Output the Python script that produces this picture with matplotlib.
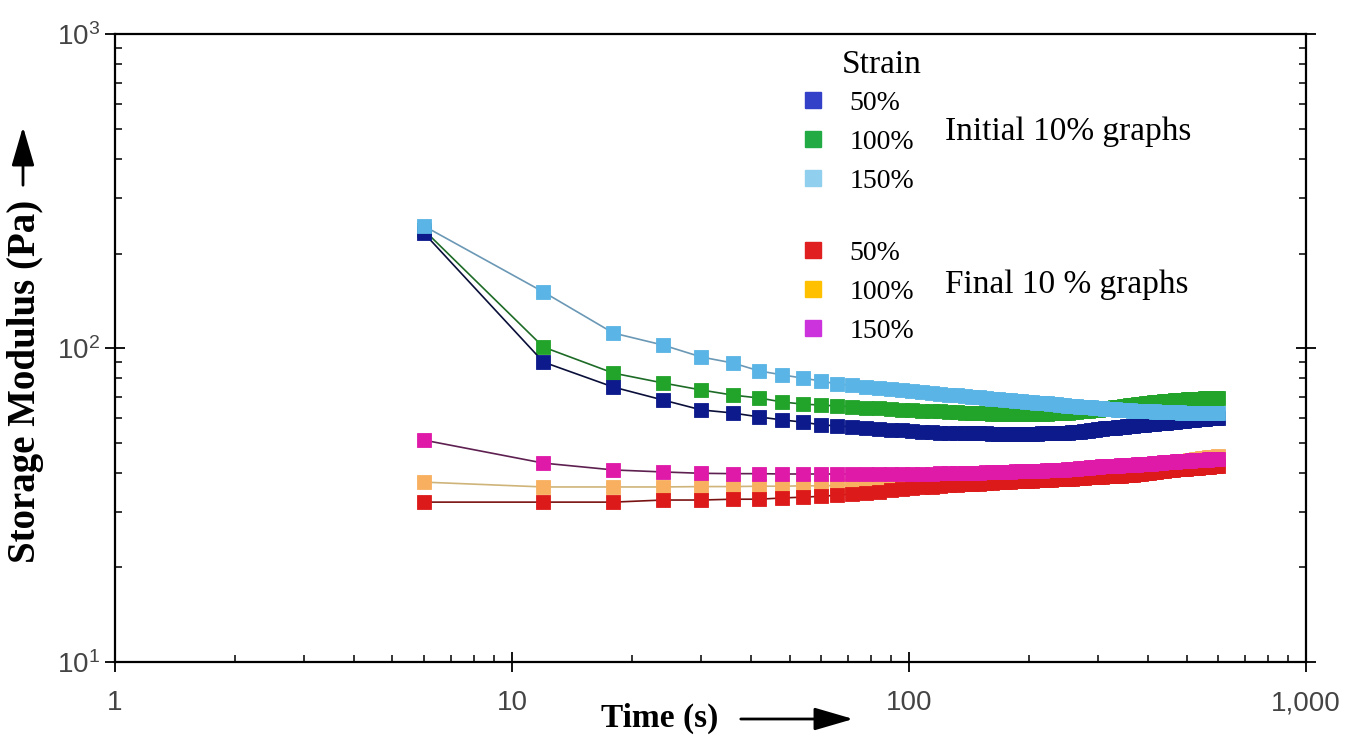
import matplotlib
matplotlib.use('Agg')
import matplotlib.pyplot as plt
from matplotlib.lines import Line2D
from matplotlib.patches import FancyArrowPatch
from matplotlib.ticker import FixedLocator, NullFormatter

plt.rcParams['font.family'] = ['Liberation Sans', 'DejaVu Sans']
plt.rcParams['mathtext.fontset'] = 'custom'
plt.rcParams['mathtext.rm'] = 'Liberation Sans'

# time (s) - the rheometer samples every 6 s
time_s = [6, 12, 18, 24, 30, 36, 42, 48, 54, 60,
          66, 72, 78, 84, 90, 96, 102, 108, 114, 120,
          126, 132, 138, 144, 150, 156, 162, 168, 174, 180,
          186, 192, 198, 204, 210, 216, 222, 228, 234, 240,
          246, 252, 258, 264, 270, 276, 282, 288, 294, 300,
          306, 312, 318, 324, 330, 336, 342, 348, 354, 360,
          366, 372, 378, 384, 390, 396, 402, 408, 414, 420,
          426, 432, 438, 444, 450, 456, 462, 468, 474, 480,
          486, 492, 498, 504, 510, 516, 522, 528, 534, 540,
          546, 552, 558, 564, 570, 576, 582, 588, 594, 600]

# storage modulus (Pa), initial 10 % of the test
init_50 = [232.4, 90.2, 75.1, 68.3, 63.5, 62.1, 60.3, 59.0, 58.1, 56.9,
           56.5, 56.1, 55.7, 55.3, 55.0, 54.7, 54.4, 54.2, 54.0, 53.8,
           53.7, 53.6, 53.6, 53.5, 53.5, 53.5, 53.4, 53.4, 53.4, 53.4,
           53.4, 53.4, 53.4, 53.4, 53.4, 53.5, 53.5, 53.5, 53.6, 53.6,
           53.7, 53.8, 53.9, 54.0, 54.2, 54.4, 54.6, 54.8, 55.0, 55.2,
           55.3, 55.5, 55.6, 55.7, 55.8, 56.0, 56.1, 56.2, 56.4, 56.5,
           56.6, 56.7, 56.8, 56.9, 57.0, 57.1, 57.2, 57.3, 57.4, 57.5,
           57.6, 57.7, 57.8, 57.9, 58.0, 58.1, 58.2, 58.3, 58.4, 58.5,
           58.6, 58.7, 58.8, 58.9, 59.0, 59.1, 59.2, 59.3, 59.4, 59.5,
           59.5, 59.6, 59.6, 59.7, 59.7, 59.8, 59.8, 59.9, 59.9, 60.0]
init_100 = [237.6, 100.7, 83.2, 77.4, 73.5, 70.8, 69.3, 67.3, 66.3, 65.8,
            65.4, 65.0, 64.6, 64.3, 64.0, 63.7, 63.4, 63.2, 63.0, 62.8,
            62.6, 62.4, 62.3, 62.1, 62.0, 61.9, 61.8, 61.7, 61.7, 61.6,
            61.6, 61.6, 61.6, 61.6, 61.7, 61.7, 61.8, 61.9, 62.0, 62.1,
            62.2, 62.3, 62.5, 62.6, 62.8, 62.9, 63.1, 63.3, 63.5, 63.7,
            63.9, 64.1, 64.3, 64.5, 64.7, 64.9, 65.1, 65.3, 65.5, 65.7,
            65.9, 66.0, 66.2, 66.4, 66.5, 66.7, 66.8, 67.0, 67.1, 67.3,
            67.4, 67.5, 67.6, 67.7, 67.8, 67.9, 68.0, 68.1, 68.2, 68.3,
            68.4, 68.5, 68.5, 68.6, 68.7, 68.7, 68.8, 68.8, 68.9, 68.9,
            69.0, 69.0, 69.1, 69.1, 69.2, 69.2, 69.3, 69.3, 69.4, 69.4]
init_150 = [244.7, 150.8, 111.6, 102.2, 93.6, 89.6, 84.5, 82.1, 80.2, 78.5,
            76.8, 76.0, 75.1, 74.6, 74.0, 73.5, 72.9, 72.4, 71.9, 71.4,
            71.0, 70.6, 70.2, 69.9, 69.6, 69.3, 69.0, 68.7, 68.4, 68.2,
            67.9, 67.7, 67.4, 67.2, 67.0, 66.8, 66.6, 66.4, 66.2, 66.0,
            65.8, 65.6, 65.4, 65.3, 65.1, 65.0, 64.8, 64.7, 64.5, 64.4,
            64.3, 64.1, 64.0, 63.9, 63.8, 63.7, 63.6, 63.5, 63.4, 63.3,
            63.2, 63.2, 63.1, 63.0, 63.0, 62.9, 62.9, 62.8, 62.8, 62.7,
            62.7, 62.6, 62.6, 62.6, 62.5, 62.5, 62.5, 62.4, 62.4, 62.4,
            62.3, 62.3, 62.3, 62.3, 62.2, 62.2, 62.2, 62.2, 62.2, 62.1,
            62.1, 62.1, 62.1, 62.1, 62.1, 62.1, 62.1, 62.1, 62.1, 62.1]

# storage modulus (Pa), final 10 % of the test
final_50 = [32.3, 32.3, 32.3, 32.8, 32.8, 33.0, 33.0, 33.3, 33.5, 33.7,
            34.0, 34.3, 34.6, 34.9, 35.2, 35.5, 35.8, 36.0, 36.2, 36.4,
            36.6, 36.7, 36.8, 36.9, 37.0, 37.1, 37.2, 37.3, 37.4, 37.5,
            37.6, 37.7, 37.8, 37.8, 37.9, 38.0, 38.0, 38.1, 38.2, 38.2,
            38.3, 38.4, 38.4, 38.5, 38.6, 38.6, 38.7, 38.8, 38.8, 38.9,
            38.9, 39.0, 39.0, 39.1, 39.1, 39.2, 39.2, 39.3, 39.3, 39.4,
            39.5, 39.6, 39.7, 39.8, 39.9, 40.0, 40.1, 40.2, 40.3, 40.4,
            40.5, 40.6, 40.7, 40.8, 40.9, 41.0, 41.0, 41.1, 41.1, 41.2,
            41.2, 41.3, 41.3, 41.4, 41.4, 41.5, 41.5, 41.6, 41.6, 41.7,
            41.7, 41.8, 41.8, 41.9, 41.9, 42.0, 42.0, 42.1, 42.1, 42.2]
final_100 = [37.4, 36.1, 36.1, 36.1, 36.2, 36.2, 36.3, 36.3, 36.4, 36.4,
             36.5, 36.6, 36.7, 36.8, 36.9, 37.0, 37.1, 37.2, 37.3, 37.4,
             37.5, 37.6, 37.7, 37.8, 37.9, 38.0, 38.1, 38.2, 38.3, 38.4,
             38.5, 38.6, 38.7, 38.8, 38.9, 39.0, 39.1, 39.2, 39.3, 39.4,
             39.5, 39.6, 39.7, 39.8, 39.9, 40.0, 40.1, 40.2, 40.3, 40.4,
             40.5, 40.6, 40.7, 40.8, 40.9, 41.0, 41.1, 41.2, 41.3, 41.4,
             41.5, 41.6, 41.7, 41.8, 41.9, 42.0, 42.1, 42.2, 42.3, 42.4,
             42.5, 42.6, 42.7, 42.8, 42.9, 43.0, 43.1, 43.2, 43.3, 43.4,
             43.5, 43.6, 43.7, 43.8, 43.9, 44.0, 44.1, 44.2, 44.3, 44.4,
             44.5, 44.6, 44.7, 44.8, 44.9, 45.0, 45.0, 45.1, 45.1, 45.2]
final_150 = [50.9, 43.0, 40.9, 40.3, 39.9, 39.8, 39.8, 39.7, 39.7, 39.7,
             39.7, 39.7, 39.7, 39.7, 39.7, 39.7, 39.8, 39.8, 39.8, 39.9,
             39.9, 40.0, 40.0, 40.1, 40.1, 40.2, 40.2, 40.3, 40.3, 40.4,
             40.5, 40.5, 40.6, 40.6, 40.7, 40.7, 40.8, 40.8, 40.9, 40.9,
             41.0, 41.1, 41.2, 41.3, 41.4, 41.5, 41.6, 41.7, 41.8, 41.9,
             42.0, 42.0, 42.1, 42.1, 42.2, 42.2, 42.3, 42.3, 42.4, 42.4,
             42.5, 42.5, 42.6, 42.6, 42.7, 42.7, 42.8, 42.8, 42.9, 42.9,
             43.0, 43.1, 43.2, 43.2, 43.3, 43.4, 43.4, 43.5, 43.6, 43.6,
             43.7, 43.7, 43.8, 43.8, 43.8, 43.9, 43.9, 43.9, 44.0, 44.0,
             44.0, 44.1, 44.1, 44.1, 44.2, 44.2, 44.2, 44.3, 44.3, 44.3]

x_ticks = [1, 10, 100, 1000]
x_tick_labels = ['1', '10', '100', '1,000']
legend_labels = ['50%', '100%', '150%']

# (values, marker colour, line colour) in drawing order
series = [
    (init_100, '#22a32a', '#1d6b26'),
    (init_50, '#0d1a8c', '#0a0f3a'),
    (init_150, '#5ab4e5', '#6a98b5'),
    (final_100, '#f8b060', '#cfb47a'),
    (final_50, '#dd1a1a', '#7a1212'),
    (final_150, '#e01aa8', '#5e2050'),
]

fig = plt.figure(figsize=(13.61, 7.40), dpi=100)
ax = fig.add_axes([0.0845, 0.1054, 0.8751, 0.8486])

for vals, mc, lc in series:
    ax.plot(time_s, vals, color=lc, lw=1.2, marker='s', ms=10.5,
            mfc=mc, mec=mc, mew=0.6)

ax.set_xscale('log')
ax.set_yscale('log')
ax.set_xlim(1, 1000)
ax.set_ylim(10, 1000)

ax.xaxis.set_major_locator(FixedLocator(x_ticks))
ax.set_xticklabels(x_tick_labels)
ax.xaxis.set_minor_formatter(NullFormatter())
ax.yaxis.set_minor_formatter(NullFormatter())

for s in ax.spines.values():
    s.set_linewidth(1.6)
ax.tick_params(which='major', direction='inout', length=15, width=1.3,
               labelsize=20, labelcolor='#444444', right=True)
ax.tick_params(which='minor', direction='in', length=5, width=1.1, right=True)
ax.tick_params(axis='x', which='major', pad=13)
ax.tick_params(axis='y', which='major', pad=3)

# legends
serif = 'Liberation Serif'
h1 = [Line2D([], [], ls='none', marker='s', ms=12, color=c)
      for c in ['#3340c8', '#22aa44', '#90d0ee']]
h2 = [Line2D([], [], ls='none', marker='s', ms=12, color=c)
      for c in ['#e02020', '#ffc000', '#cc33dd']]
leg_kw = dict(loc='upper left', frameon=False, borderpad=0, borderaxespad=0,
              handlelength=0.8, handletextpad=0.9, labelspacing=0.48,
              prop={'family': serif, 'size': 20})
leg1 = ax.legend(h1, legend_labels, bbox_to_anchor=(0.577, 0.910), **leg_kw)
ax.add_artist(leg1)
ax.legend(h2, legend_labels, bbox_to_anchor=(0.577, 0.671), **leg_kw)

ax.text(0.610, 0.951, 'Strain', transform=ax.transAxes,
        family=serif, fontsize=24, va='center')
ax.text(0.697, 0.844, 'Initial 10% graphs', transform=ax.transAxes,
        family=serif, fontsize=24, va='center')
ax.text(0.697, 0.600, 'Final 10 % graphs', transform=ax.transAxes,
        family=serif, fontsize=24, va='center')

# axis titles with arrows
fig.text(26 / 1361, 1 - 381 / 740, 'Storage Modulus (Pa)', rotation=90,
         family=serif, fontweight='bold', fontsize=28, ha='center', va='center')
fig.text(660 / 1361, 1 - 718 / 740, 'Time (s)', family=serif,
         fontweight='bold', fontsize=24, ha='center', va='center')
head = '-|>,head_length=1.2,head_width=0.35'
fig.add_artist(FancyArrowPatch((23 / 1361, 1 - 188 / 740), (23 / 1361, 1 - 124 / 740),
                               transform=fig.transFigure, arrowstyle=head,
                               mutation_scale=20, lw=2, color='black'))
fig.add_artist(FancyArrowPatch((738 / 1361, 1 - 719 / 740), (856 / 1361, 1 - 719 / 740),
                               transform=fig.transFigure, arrowstyle=head,
                               mutation_scale=20, lw=2, color='black'))

fig.savefig('out.png', dpi=100)
